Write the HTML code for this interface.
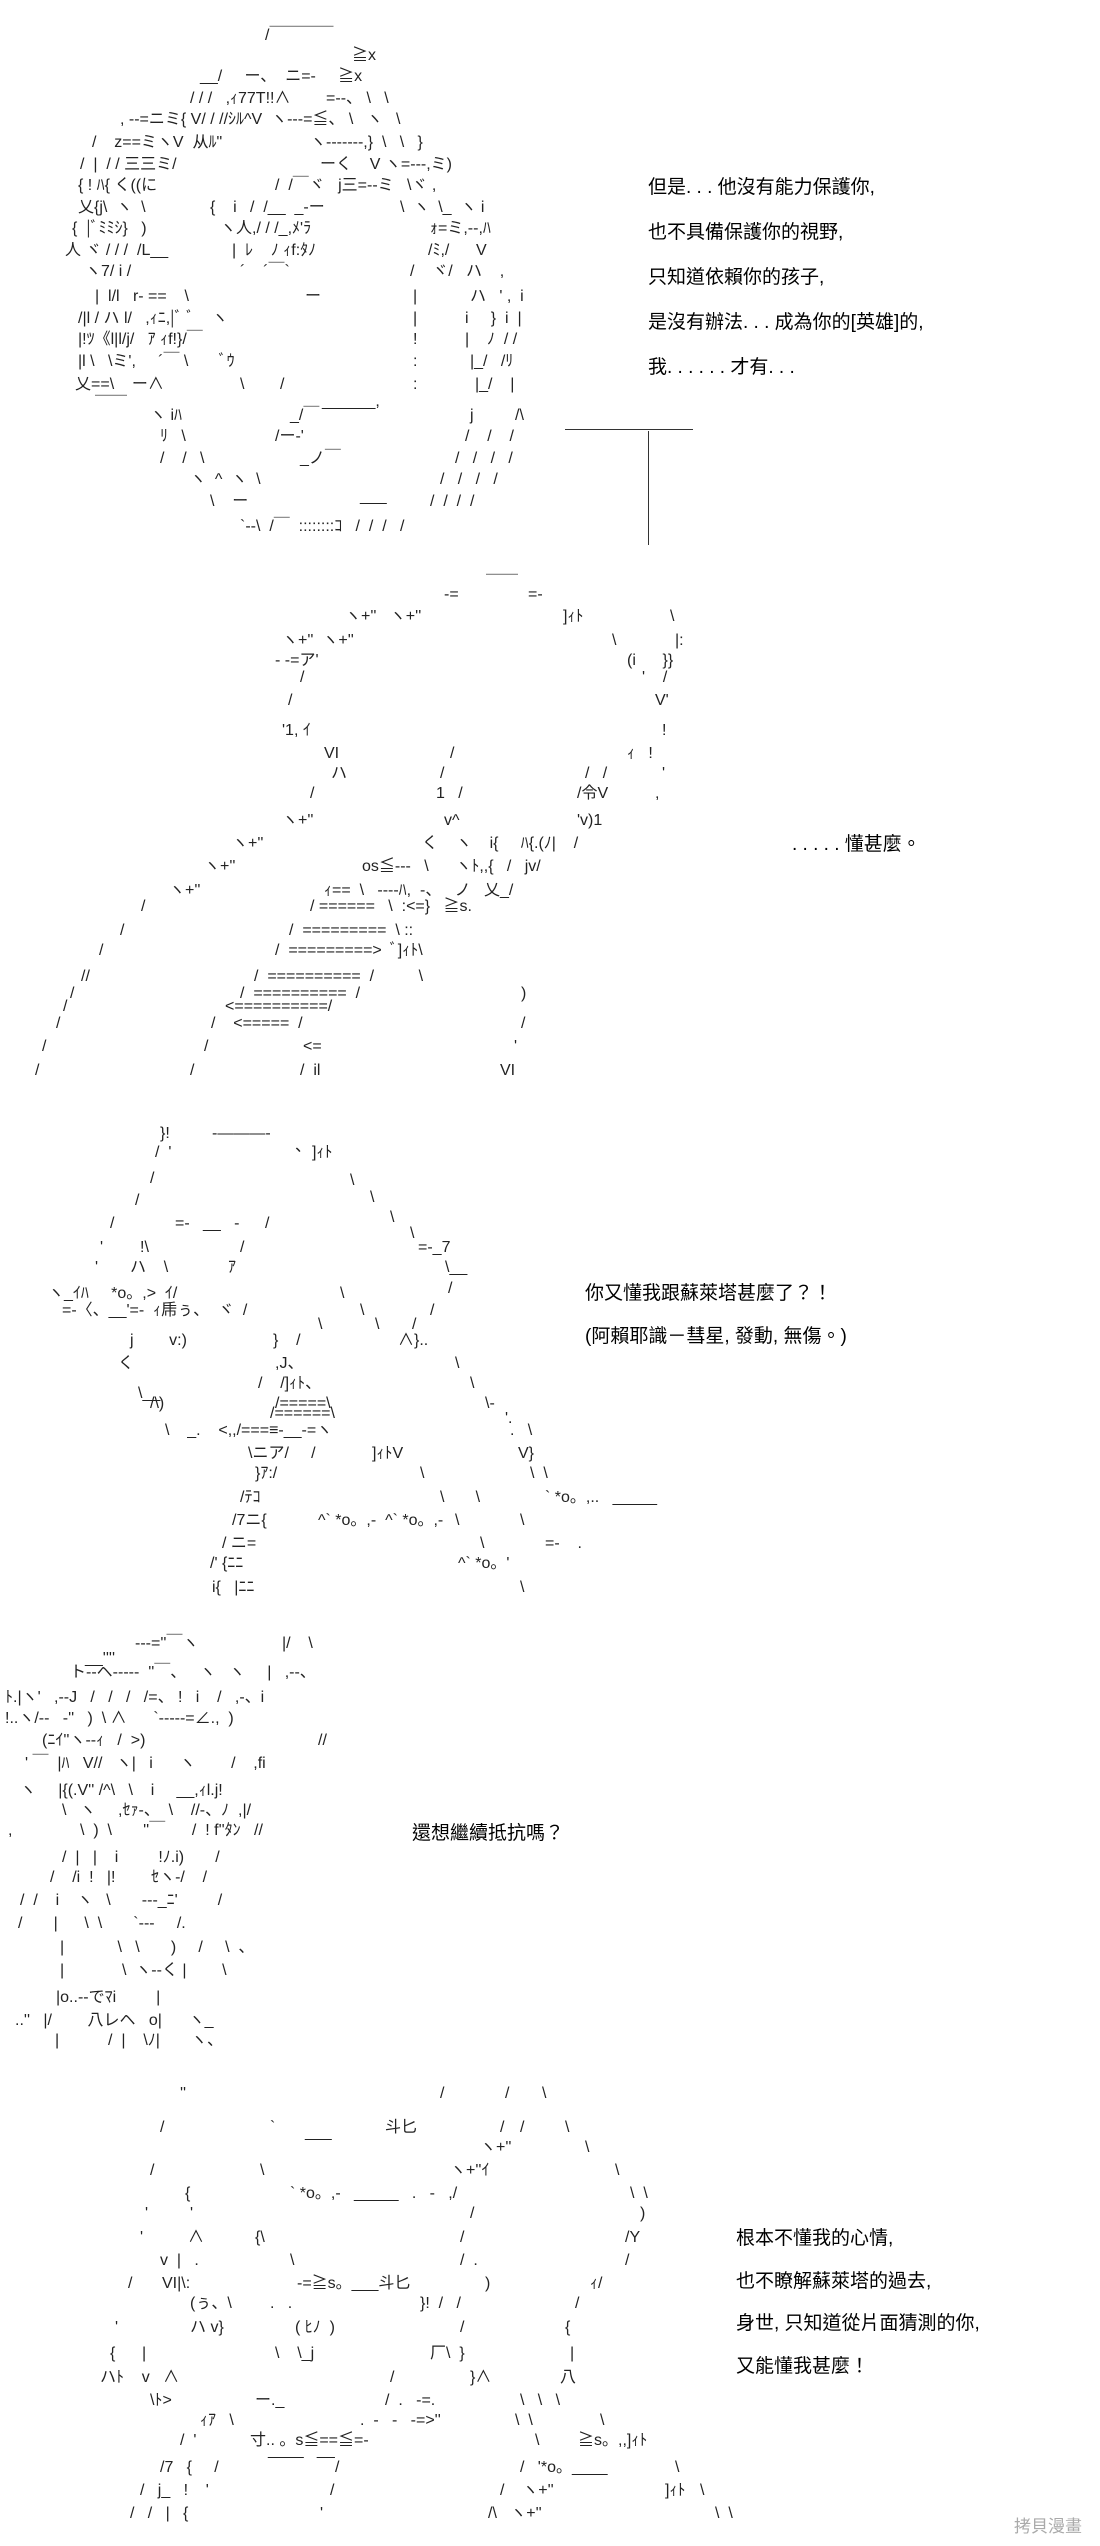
<!DOCTYPE html>
<html><head><meta charset="utf-8"><style>
html,body{margin:0;padding:0;background:#fff}
#c{position:relative;width:1100px;height:2546px;overflow:hidden;background:#fff}
#c i{position:absolute;font-style:normal;white-space:pre;font:16px/17px "Liberation Sans","Noto Sans CJK JP",sans-serif;color:#222}
#c b{position:absolute;font-weight:normal;white-space:pre;font:19px/22px "Liberation Sans","Noto Sans CJK TC",sans-serif;color:#000}
.ln{position:absolute;background:#333}
</style></head><body><div id="c">
<!-- Panel 1 -->
<i style="left:265px;top:27px">/￣￣￣￣</i>
<i style="left:352px;top:47px">≧x</i>
<i style="left:200px;top:68px">__/     ー、  ニ=-     ≧x</i>
<i style="left:190px;top:90px">/ / /   ,ｨ77T!!∧        =--、 \   \</i>
<i style="left:120px;top:111px">, --=ニミ{ V/ / //ｼﾙ^V  ヽ---=≦、 \   ヽ   \</i>
<i style="left:92px;top:134px">/    z==ミヽV  从ﾙ"</i>
<i style="left:310px;top:134px">ヽ-------,}  \   \   }</i>
<i style="left:80px;top:156px">/  |  / / 三三ミ/</i>
<i style="left:320px;top:156px">ーく    V ヽ=---,ミ)</i>
<i style="left:78px;top:177px">{ ! ﾊ{ く((に</i>
<i style="left:275px;top:177px">/  /￣ヾ   j三=--ミ   \ヾ ,</i>
<i style="left:78px;top:199px">乂{j\  ヽ  \</i>
<i style="left:210px;top:199px">{    i   /  /__  _-ー</i>
<i style="left:400px;top:199px">\  ヽ  \_  ヽ i</i>
<i style="left:72px;top:220px">{  |ﾞﾐﾐｼ}   )</i>
<i style="left:220px;top:220px">ヽ人,/ / /_,ﾒ'ﾗ</i>
<i style="left:430px;top:220px">ｫ=ミ,--,ﾊ</i>
<i style="left:65px;top:242px">人 ヾ / / /  /L__</i>
<i style="left:232px;top:242px">|  ﾚ    ﾉ ｨf:ﾀﾉ</i>
<i style="left:428px;top:242px">/ﾐ,/      V</i>
<i style="left:85px;top:263px">ヽ7/ i /</i>
<i style="left:240px;top:263px">´    ´￣`</i>
<i style="left:410px;top:263px">/    ヾ/   ハ    ,</i>
<i style="left:95px;top:288px">|  l/l   r- ==    \</i>
<i style="left:305px;top:288px">ー</i>
<i style="left:413px;top:288px">|</i><i style="left:470px;top:288px">ハ   ' ,  i</i>
<i style="left:78px;top:310px">/|l / ハ l/   ,ｨﾆ,|ﾞ ﾞ    ヽ</i>
<i style="left:413px;top:310px">|</i><i style="left:465px;top:310px">i     }  i  |</i>
<i style="left:78px;top:331px">|!ﾂ《l|l/j/   ｱ ｨf!}/￣</i>
<i style="left:413px;top:331px">!</i><i style="left:465px;top:331px">|    ﾉ  / /</i>
<i style="left:78px;top:353px">|l \   \ミ',     ´￣ \       ﾞｳ</i>
<i style="left:413px;top:353px">:</i><i style="left:470px;top:353px">|_/   /ﾘ</i>
<i style="left:75px;top:376px">乂==\    ー∧</i>
<i style="left:240px;top:376px">\        /</i>
<i style="left:413px;top:376px">:</i><i style="left:475px;top:376px">|_/    |</i>
<i style="left:95px;top:396px">￣￣</i><i style="left:322px;top:393px">______,</i>
<i style="left:150px;top:407px">ヽ iﾊ</i><i style="left:290px;top:407px">_/￣</i>
<i style="left:470px;top:407px">j</i><i style="left:515px;top:407px">/\</i>
<i style="left:160px;top:428px">ﾘ   \</i><i style="left:275px;top:428px">/ー-'</i>
<i style="left:465px;top:428px">/    /    /</i>
<i style="left:160px;top:450px">/    /   \</i><i style="left:300px;top:450px">_ノ￣</i>
<i style="left:455px;top:450px">/   /   /   /</i>
<i style="left:190px;top:471px">ヽ  ^  ヽ  \</i><i style="left:440px;top:471px">/   /   /   /</i>
<i style="left:210px;top:493px">\    ー</i><i style="left:360px;top:488px">___</i>
<i style="left:430px;top:493px">/  /  /  /</i>
<i style="left:240px;top:518px">`--\  /￣  ::::::::ｺ   /  /  /   /</i>
<div class="ln" style="left:565px;top:429px;width:128px;height:1px"></div>
<div class="ln" style="left:648px;top:431px;width:1px;height:114px"></div>
<b style="left:648px;top:177px">但是. . . 他沒有能力保護你,</b>
<b style="left:648px;top:222px">也不具備保護你的視野,</b>
<b style="left:648px;top:267px">只知道依賴你的孩子,</b>
<b style="left:648px;top:312px">是沒有辦法. . . 成為你的[英雄]的,</b>
<b style="left:648px;top:357px">我. . . . . . 才有. . .</b>

<!-- Panel 2 -->
<i style="left:486px;top:575px">￣￣</i>
<i style="left:444px;top:586px">-=</i><i style="left:528px;top:586px">=-</i>
<i style="left:345px;top:608px">ヽ+''   ヽ+''</i><i style="left:563px;top:608px">]ｨﾄ</i><i style="left:670px;top:608px">\</i>
<i style="left:282px;top:632px">ヽ+''  ヽ+''</i><i style="left:612px;top:632px">\</i><i style="left:675px;top:632px">|:</i>
<i style="left:275px;top:652px">- -=ア'</i><i style="left:627px;top:652px">(i      }}</i>
<i style="left:300px;top:669px">/</i><i style="left:642px;top:669px">'    /</i>
<i style="left:288px;top:692px">/</i><i style="left:655px;top:692px">V'</i>
<i style="left:282px;top:722px">'1, ｲ</i><i style="left:662px;top:722px">!</i>
<i style="left:324px;top:745px">VI</i><i style="left:450px;top:745px">/</i><i style="left:627px;top:745px">ｨ   !</i>
<i style="left:331px;top:765px">ハ</i><i style="left:440px;top:765px">/</i><i style="left:585px;top:765px">/   /</i><i style="left:662px;top:765px">'</i>
<i style="left:310px;top:785px">/</i><i style="left:436px;top:785px">1   /</i><i style="left:577px;top:785px">/令V</i><i style="left:655px;top:785px">,</i>
<i style="left:282px;top:812px">ヽ+''</i><i style="left:444px;top:812px">v^</i><i style="left:577px;top:812px">'v)1</i>
<i style="left:232px;top:835px">ヽ+''</i><i style="left:422px;top:835px">く    ヽ    i{     ﾊ{.(ﾉ|    /</i>
<i style="left:204px;top:858px">ヽ+''</i><i style="left:362px;top:858px">os≦---   \      ヽﾄ,,{   /   jv/</i>
<i style="left:169px;top:882px">ヽ+''</i><i style="left:324px;top:882px">ｨ==  \   ----ﾊ,  -、   ノ   乂_/</i>
<i style="left:141px;top:898px">/</i><i style="left:310px;top:898px">/ ======   \  :<=}   ≧s.</i>
<i style="left:120px;top:922px">/</i><i style="left:289px;top:922px">/  =========  \ ::</i>
<i style="left:99px;top:942px">/</i><i style="left:275px;top:942px">/  =========>  ﾞ]ｨﾄ\</i>
<i style="left:81px;top:968px">//</i><i style="left:254px;top:968px">/  ==========  /          \</i>
<i style="left:70px;top:985px">/</i><i style="left:240px;top:985px">/  ==========  /</i><i style="left:521px;top:985px">)</i>
<i style="left:63px;top:998px">/</i><i style="left:225px;top:998px">&lt;==========/</i>
<i style="left:56px;top:1015px">/</i><i style="left:211px;top:1015px">/    &lt;=====  /</i><i style="left:521px;top:1015px">/</i>
<i style="left:42px;top:1038px">/</i><i style="left:204px;top:1038px">/</i><i style="left:303px;top:1038px">&lt;=</i><i style="left:514px;top:1038px">'</i>
<i style="left:35px;top:1062px">/</i><i style="left:190px;top:1062px">/</i><i style="left:300px;top:1062px">/  il</i><i style="left:500px;top:1062px">VI</i>
<b style="left:792px;top:834px">. . . . . 懂甚麼。</b>

<!-- Panel 3 -->
<i style="left:160px;top:1125px">}!</i><i style="left:212px;top:1125px">-———-</i><i style="left:295px;top:1138px">、</i>
<i style="left:155px;top:1144px">/  '</i><i style="left:312px;top:1144px">]ｨﾄ</i>
<i style="left:150px;top:1170px">/</i><i style="left:350px;top:1172px">\</i>
<i style="left:135px;top:1192px">/</i><i style="left:370px;top:1189px">\</i>
<i style="left:110px;top:1215px">/</i><i style="left:175px;top:1215px">=-   __   -</i><i style="left:265px;top:1215px">/</i><i style="left:390px;top:1209px">\</i>
<i style="left:100px;top:1239px">'</i><i style="left:140px;top:1239px">!\</i><i style="left:240px;top:1239px">/</i><i style="left:418px;top:1239px">=-_7</i><i style="left:410px;top:1225px">\</i>
<i style="left:95px;top:1259px">'</i><i style="left:130px;top:1259px">ハ    \</i><i style="left:228px;top:1259px">ｱ</i><i style="left:445px;top:1259px">\__</i>
<i style="left:48px;top:1285px">ヽ_ｲﾊ     *o。,>  ｲ/</i><i style="left:340px;top:1285px">\</i><i style="left:448px;top:1280px">/</i>
<i style="left:62px;top:1302px">=-〈、__'=-  ｨ乕ぅ、  ヾ  /</i><i style="left:360px;top:1302px">\</i><i style="left:430px;top:1302px">/</i>
<i style="left:318px;top:1316px">\</i><i style="left:375px;top:1316px">\</i><i style="left:412px;top:1316px">/</i>
<i style="left:130px;top:1332px">j        v:)</i><i style="left:273px;top:1332px">}    /</i><i style="left:398px;top:1332px">∧}..</i>
<i style="left:118px;top:1355px">く</i><i style="left:275px;top:1355px">,J、</i><i style="left:455px;top:1355px">\</i>
<i style="left:258px;top:1375px">/    /]ｨﾄ、</i><i style="left:470px;top:1375px">\</i>
<i style="left:138px;top:1385px">\__</i>
<i style="left:150px;top:1395px">/\)</i><i style="left:275px;top:1395px">/=====\</i><i style="left:485px;top:1395px">\-</i>
<i style="left:270px;top:1405px">/======\</i><i style="left:505px;top:1410px">'.</i>
<i style="left:165px;top:1422px">\    _.    &lt;,,/===≡-__-=ヽ</i><i style="left:510px;top:1422px">.   \</i>
<i style="left:248px;top:1445px">\ニア/     /</i><i style="left:372px;top:1445px">]ｨﾄV</i><i style="left:518px;top:1445px">V}</i>
<i style="left:255px;top:1465px">}ｱ:/</i><i style="left:420px;top:1465px">\</i><i style="left:530px;top:1465px">\  \</i>
<i style="left:240px;top:1489px">/ﾃｺ</i><i style="left:440px;top:1489px">\       \</i><i style="left:545px;top:1489px">` *o。,..   _____</i>
<i style="left:232px;top:1512px">/7ニ{</i><i style="left:318px;top:1512px">^` *o。,-  ^` *o。,-</i><i style="left:455px;top:1512px">\</i><i style="left:520px;top:1512px">\</i>
<i style="left:222px;top:1535px">/ ニ=</i><i style="left:480px;top:1535px">\</i><i style="left:545px;top:1535px">=-    .</i>
<i style="left:210px;top:1555px">/' {ﾆﾆ</i><i style="left:458px;top:1555px">^` *o。'</i>
<i style="left:212px;top:1579px">i{   |ﾆﾆ</i><i style="left:520px;top:1579px">\</i>
<b style="left:585px;top:1283px">你又懂我跟蘇萊塔甚麼了？！</b>
<b style="left:585px;top:1326px">(阿賴耶識－彗星, 發動, 無傷。)</b>

<!-- Panel 4 -->
<i style="left:135px;top:1635px">---=''￣ヽ</i><i style="left:282px;top:1635px">|/    \</i>
<i style="left:85px;top:1650px">__''''</i>
<i style="left:70px;top:1664px">ト--ヘ-----  ''￣、   ヽ   ヽ     |   ,--、</i>
<i style="left:5px;top:1689px">ﾄ.|ヽ'   ,--J   /   /   /   /=、 !   i    /   ,-、i</i>
<i style="left:5px;top:1710px">!..ヽ/--   -''   )  \ ∧      `-----=∠.,  )</i>
<i style="left:42px;top:1732px">(ﾆｲ''ヽ--ｨ   /  >)</i><i style="left:318px;top:1732px">//</i>
<i style="left:25px;top:1755px">' ￣  |ﾊ   V//   ヽ|   i      ヽ        /    ,fi</i>
<i style="left:20px;top:1782px">ヽ     |{(.V'' /^\   \    i     __,ｨl.j!</i>
<i style="left:62px;top:1802px">\   ヽ     ,ｾｧ-、  \    //-、ﾉ  ,|/</i>
<i style="left:8px;top:1822px">,</i><i style="left:80px;top:1822px">\  )  \       ''￣      /  ! f''ﾀﾝ   //</i>
<i style="left:62px;top:1849px">/  |   |    i         !ﾉ.i)       /</i>
<i style="left:50px;top:1869px">/    /i  !   |!        ｾヽ-/    /</i>
<i style="left:20px;top:1892px">/  /    i    ヽ   \       ---_ﾆ'         /</i>
<i style="left:18px;top:1915px">/       |      \  \       `---     /.</i>
<i style="left:60px;top:1939px">|            \   \       )     /     \  、</i>
<i style="left:60px;top:1962px">|             \  ヽ--く |        \</i>
<i style="left:56px;top:1989px">|o..--でﾏi         |</i>
<i style="left:15px;top:2012px">..''   |/        八レヘ   o|      ヽ_</i>
<i style="left:55px;top:2032px">|           /  |    \ﾉ|       ヽ、</i>
<b style="left:412px;top:1823px">還想繼續抵抗嗎？</b>

<!-- Panel 5 -->
<i style="left:180px;top:2085px">''</i><i style="left:440px;top:2085px">/</i><i style="left:505px;top:2085px">/</i><i style="left:542px;top:2085px">\</i>
<i style="left:160px;top:2119px">/</i><i style="left:270px;top:2119px">`</i><i style="left:385px;top:2119px">斗匕</i><i style="left:500px;top:2119px">/</i><i style="left:520px;top:2119px">/</i><i style="left:565px;top:2119px">\</i>
<i style="left:305px;top:2124px">___</i>
<i style="left:480px;top:2139px">ヽ+''</i><i style="left:585px;top:2139px">\</i>
<i style="left:150px;top:2162px">/</i><i style="left:260px;top:2162px">\</i><i style="left:450px;top:2162px">ヽ+''ｲ</i><i style="left:615px;top:2162px">\</i>
<i style="left:185px;top:2185px">{</i><i style="left:290px;top:2185px">` *o。,-   _____   .   -   ,/</i><i style="left:630px;top:2185px">\  \</i>
<i style="left:145px;top:2205px">'</i><i style="left:190px;top:2205px">'</i><i style="left:470px;top:2205px">/</i><i style="left:640px;top:2205px">)</i>
<i style="left:140px;top:2229px">'</i><i style="left:188px;top:2229px">∧</i><i style="left:255px;top:2229px">{\</i><i style="left:460px;top:2229px">/</i><i style="left:625px;top:2229px">/Y</i>
<i style="left:160px;top:2252px">v  |   .</i><i style="left:290px;top:2252px">\</i><i style="left:460px;top:2252px">/  .</i><i style="left:625px;top:2252px">/</i>
<i style="left:128px;top:2275px">/</i><i style="left:162px;top:2275px">VI|\:</i><i style="left:297px;top:2275px">-=≧s。___斗匕</i><i style="left:485px;top:2275px">)</i><i style="left:590px;top:2275px">ｨ/</i>
<i style="left:190px;top:2295px">(ぅ、\</i><i style="left:270px;top:2295px">.   .</i><i style="left:420px;top:2295px">}!  /   /</i><i style="left:575px;top:2295px">/</i>
<i style="left:115px;top:2319px">'</i><i style="left:190px;top:2319px">ハ v}</i><i style="left:295px;top:2319px">( ﾋﾉ  )</i><i style="left:460px;top:2319px">/</i><i style="left:565px;top:2319px">{</i>
<i style="left:110px;top:2345px">{      |</i><i style="left:275px;top:2345px">\    \_j</i><i style="left:430px;top:2345px">厂\  }</i><i style="left:570px;top:2345px">|</i>
<i style="left:100px;top:2369px">ハﾄ    v   ∧</i><i style="left:390px;top:2369px">/</i><i style="left:470px;top:2369px">}∧</i><i style="left:560px;top:2369px">八</i>
<i style="left:150px;top:2392px">\ﾄ></i><i style="left:255px;top:2392px">ー._</i><i style="left:385px;top:2392px">/  .   -=.</i><i style="left:520px;top:2392px">\   \   \</i>
<i style="left:200px;top:2412px">ｨｱ   \</i><i style="left:360px;top:2412px">.  -   -   -=>''</i><i style="left:515px;top:2412px">\  \</i><i style="left:600px;top:2412px">\</i>
<i style="left:180px;top:2432px">/  '</i><i style="left:250px;top:2432px">寸.. 。s≦==≦=-</i><i style="left:535px;top:2432px">\</i><i style="left:578px;top:2432px">≧s。,,]ｨﾄ</i>
<i style="left:268px;top:2442px">____   __</i>
<i style="left:160px;top:2459px">/7   {     /</i><i style="left:335px;top:2459px">/</i><i style="left:520px;top:2459px">/   '*o。____</i><i style="left:675px;top:2459px">\</i>
<i style="left:140px;top:2482px">/   j_   !    '</i><i style="left:330px;top:2482px">/</i><i style="left:500px;top:2482px">/    ヽ+''</i><i style="left:665px;top:2482px">]ｨﾄ</i><i style="left:700px;top:2482px">\</i>
<i style="left:130px;top:2505px">/   /   |   {</i><i style="left:320px;top:2505px">'</i><i style="left:488px;top:2505px">/\   ヽ+''</i><i style="left:715px;top:2505px">\  \</i>
<b style="left:736px;top:2228px">根本不懂我的心情,</b>
<b style="left:736px;top:2271px">也不瞭解蘇萊塔的過去,</b>
<b style="left:736px;top:2313px">身世, 只知道從片面猜測的你,</b>
<b style="left:736px;top:2356px">又能懂我甚麼！</b>
<b style="left:1014px;top:2516px;color:#aaa;font-size:17px">拷貝漫畫</b>
</div></body></html>
